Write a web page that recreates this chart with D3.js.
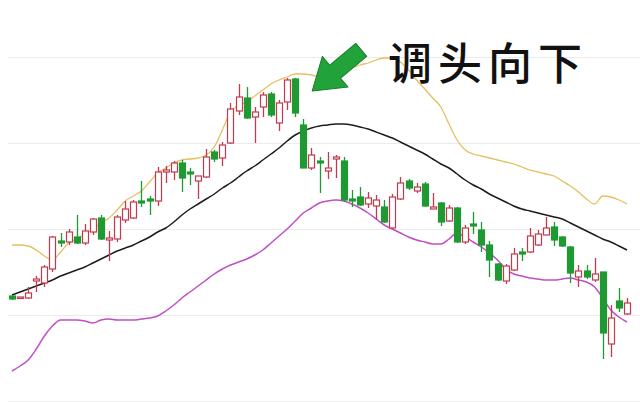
<!DOCTYPE html>
<html><head><meta charset="utf-8">
<script src="https://cdn.jsdelivr.net/npm/d3@7"></script>
<style>html,body{margin:0;padding:0;background:#fff}svg{display:block}</style>
</head><body>
<script>
// ---- data (price units) ----
const opens = [
11.05,11.03,11.03,11.20,11.18,11.32,11.60,11.59,11.64,11.58,
11.69,11.83,11.61,11.62,11.81,11.83,12.00,12.02,12.00,12.29,
12.29,12.38,12.29,12.20,12.24,12.49,12.43,12.58,12.90,13.03,
12.84,12.94,13.07,12.78,12.99,13.22,12.76,12.33,12.40,12.30,
12.42,12.40,12.02,12.04,11.97,11.95,11.94,11.73,12.02,12.20,
12.10,12.17,11.92,11.98,11.80,11.93,11.59,11.77,11.71,11.56,
11.37,11.20,11.31,11.49,11.49,11.56,11.66,11.74,11.64,11.54,
11.24,11.30,11.21,11.29,10.57,11.00,10.87];
const closes = [
11.02,11.04,11.08,11.22,11.34,11.64,11.58,11.69,11.58,11.70,
11.82,11.62,11.63,11.84,11.92,11.99,11.98,12.00,12.29,12.31,
12.38,12.23,12.27,12.25,12.44,12.42,12.56,12.92,13.04,12.83,
12.89,13.06,12.86,12.98,13.21,12.88,12.33,12.46,12.38,12.33,
12.44,12.01,12.00,11.96,12.03,12.01,11.79,12.04,12.18,12.13,
12.14,11.95,11.94,11.79,11.93,11.59,11.73,11.75,11.56,11.41,
11.21,11.35,11.47,11.47,11.65,11.67,11.73,11.61,11.55,11.28,
11.30,11.24,11.27,10.68,10.83,10.93,10.98];
const highs = [
11.06,11.04,11.14,11.25,11.36,11.65,11.68,11.72,11.86,11.77,
11.83,11.86,11.70,11.86,12.00,12.01,12.20,12.05,12.34,12.35,
12.40,12.41,12.33,12.25,12.52,12.51,12.59,12.98,13.17,13.14,
12.94,13.09,13.09,13.01,13.23,13.23,12.82,12.53,12.44,12.49,
12.46,12.44,12.11,12.14,12.09,12.06,12.01,12.07,12.24,12.22,
12.18,12.19,12.08,11.99,11.96,11.94,11.76,11.89,11.79,11.60,
11.38,11.37,11.53,11.53,11.73,11.71,11.84,11.79,11.65,11.55,
11.36,11.36,11.43,11.29,10.96,11.13,11.03];
const lows = [
11.01,11.02,11.02,11.09,11.14,11.29,11.54,11.56,11.57,11.56,
11.66,11.61,11.40,11.59,11.78,11.82,11.94,11.86,11.95,12.18,
12.21,12.09,12.16,12.02,12.23,12.39,12.35,12.57,12.86,12.82,
12.58,12.84,12.84,12.70,12.91,12.84,12.33,12.31,12.08,12.22,
12.23,11.99,11.94,11.95,11.93,11.81,11.78,11.72,12.01,12.11,
12.08,11.94,11.92,11.75,11.79,11.58,11.57,11.67,11.49,11.24,
11.20,11.17,11.30,11.40,11.48,11.55,11.66,11.55,11.54,11.18,
11.14,11.22,11.19,10.42,10.44,10.89,10.86];
const maGold = [
11.56,11.56,11.55,11.51,11.45,11.41,11.49,11.58,11.62,11.67,
11.72,11.78,11.83,11.91,12.00,12.05,12.10,12.19,12.28,12.33,
12.38,12.41,12.42,12.43,12.46,12.54,12.71,12.89,12.96,12.99,
13.05,13.11,13.17,13.21,13.24,13.27,13.27,13.26,13.24,13.25,
13.28,13.30,13.33,13.36,13.38,13.41,13.43,13.43,13.39,13.31,
13.21,13.12,13.03,12.94,12.77,12.61,12.51,12.47,12.45,12.43,
12.41,12.39,12.37,12.34,12.31,12.29,12.27,12.25,12.20,12.15,
12.09,12.02,11.97,12.05,12.04,12.01,11.97];
const maBlack = [
11.06,11.09,11.12,11.15,11.18,11.21,11.25,11.28,11.31,11.34,
11.38,11.42,11.46,11.50,11.53,11.56,11.60,11.64,11.69,11.73,
11.79,11.86,11.92,11.97,12.02,12.07,12.13,12.18,12.24,12.30,
12.35,12.41,12.47,12.53,12.60,12.66,12.70,12.73,12.75,12.76,
12.77,12.77,12.76,12.74,12.72,12.69,12.66,12.63,12.59,12.55,
12.51,12.47,12.42,12.37,12.33,12.27,12.21,12.16,12.12,12.07,
12.03,11.99,11.95,11.92,11.90,11.88,11.86,11.84,11.82,11.78,
11.74,11.70,11.66,11.62,11.59,11.55,11.51];
const maPurple = [
10.30,10.35,10.41,10.52,10.65,10.75,10.81,10.81,10.81,10.80,
10.78,10.81,10.82,10.81,10.81,10.81,10.82,10.83,10.85,10.90,
10.96,11.03,11.09,11.15,11.21,11.27,11.32,11.36,11.39,11.42,
11.46,11.51,11.58,11.65,11.72,11.80,11.88,11.93,11.98,12.00,
12.01,12.00,11.97,11.93,11.88,11.82,11.76,11.72,11.68,11.64,
11.61,11.59,11.57,11.57,11.62,11.68,11.64,11.59,11.54,11.48,
11.41,11.32,11.27,11.25,11.23,11.22,11.21,11.21,11.22,11.23,
11.21,11.19,11.14,11.03,10.91,10.84,10.79];
const gridLevels = [10.00, 10.86, 11.72, 12.58, 13.44];
const annotation = "调头向下";
const arrowTip = {i: 37.1, p: 13.10};

// ---- drawing ----
const W = 640, H = 402;
const svg = d3.select("body").append("svg").attr("width", W).attr("height", H);
const n = opens.length;
const x = d3.scaleLinear().domain([0, n - 1]).range([12, 627]);
const y = d3.scaleLinear().domain([10, 13.44]).range([401, 57]);

const RED = "#c23a4c", GREEN = "#1f9a33";

svg.append("g").selectAll("line").data(gridLevels).join("line")
  .attr("x1", 8).attr("x2", W)
  .attr("y1", d => Math.round(y(d)) + 0.5).attr("y2", d => Math.round(y(d)) + 0.5)
  .attr("stroke", "#ebebeb").attr("stroke-width", 1);

const line = d3.line().x((d, i) => x(i)).y(d => y(d)).curve(d3.curveMonotoneX);
svg.append("path").datum(maGold).attr("d", line).attr("fill", "none")
  .attr("stroke", "#e6bf62").attr("stroke-width", 1.3);
svg.append("path").datum(maBlack).attr("d", line).attr("fill", "none")
  .attr("stroke", "#1c1c1c").attr("stroke-width", 1.5);
svg.append("path").datum(maPurple).attr("d", line).attr("fill", "none")
  .attr("stroke", "#c04fc6").attr("stroke-width", 1.5);

const idx = d3.range(n);
const cg = svg.append("g").selectAll("g").data(idx).join("g");
const up = i => closes[i] >= opens[i];
const bw = 6;
cg.append("line")
  .attr("x1", i => Math.round(x(i)) + 0.5).attr("x2", i => Math.round(x(i)) + 0.5)
  .attr("y1", i => y(highs[i])).attr("y2", i => y(lows[i]))
  .attr("stroke", i => up(i) ? RED : GREEN).attr("stroke-width", 1.3);
cg.append("rect")
  .attr("x", i => Math.round(x(i)) + 0.5 - bw / 2)
  .attr("width", bw)
  .attr("y", i => y(Math.max(opens[i], closes[i])))
  .attr("height", i => Math.max(1.5, Math.abs(y(opens[i]) - y(closes[i]))))
  .attr("fill", i => up(i) ? "#fff" : GREEN)
  .attr("stroke", i => up(i) ? RED : GREEN)
  .attr("stroke-width", 1.2);

// arrow annotation
const tx = x(arrowTip.i), ty = y(arrowTip.p);
const arrowPts = [[0,0],[30,-20],[30,-8.5],[64,-8.5],[64,8.5],[30,8.5],[30,20]];
svg.append("polygon")
  .attr("points", arrowPts.map(p => p.join(",")).join(" "))
  .attr("transform", `translate(${tx},${ty}) rotate(-40)`)
  .attr("fill", "#22a33a").attr("stroke", "#17802a").attr("stroke-width", 1)
  .attr("stroke-linejoin", "round");

svg.append("text")
  .attr("x", 388).attr("y", 80)
  .attr("font-family", "'Noto Sans CJK SC', 'Noto Sans', sans-serif")
  .attr("font-size", 44).attr("font-weight", 500)
  .attr("letter-spacing", 6)
  .attr("fill", "#111")
  .text(annotation);
</script>
</body></html>
